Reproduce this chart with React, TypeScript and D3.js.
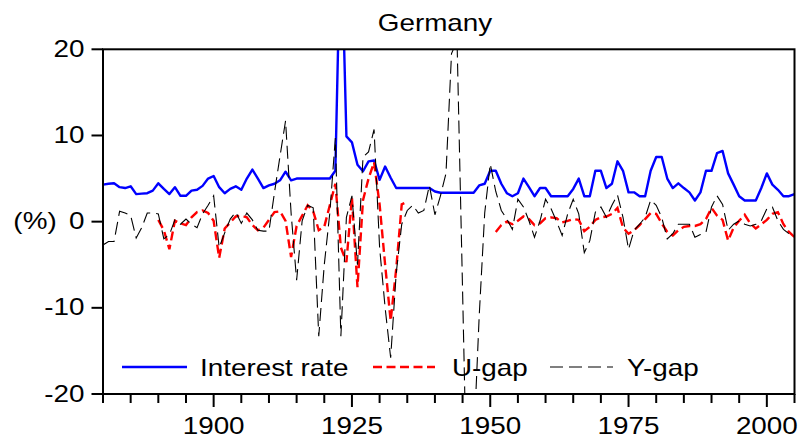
import React from "react";
import * as d3 from "d3";

// Annual series, Germany
const FIRST_YEAR = 1880;
const LAST_YEAR = 2005;

// Interest rate (%), 1880-2005
const interestRate = [
  4.3, 4.4, 4.45, 4.0, 3.9, 4.1, 3.2, 3.25, 3.3, 3.6,
  4.45, 3.8, 3.2, 4.0, 3.0, 3.0, 3.6, 3.7, 4.15, 5.0,
  5.3, 4.0, 3.3, 3.8, 4.1, 3.7, 5.0, 6.05, 5.0, 3.9,
  4.2, 4.4, 4.8, 5.8, 4.8, 5.0, 5.0, 5.0, 5.0, 5.0,
  5.0, 5.0, 5.9, 35, 9.9, 9.2, 6.6, 5.85, 7.0, 7.1,
  4.85, 6.4, 5.1, 3.9, 3.9, 3.9, 3.9, 3.9, 3.9, 3.9,
  3.5, 3.35, 3.35, 3.35, 3.35, 3.35, 3.35, 3.35, 4.2, 4.4,
  5.9, 5.9, 4.4, 3.3, 2.95, 3.3, 5.0, 4.0, 2.95, 3.9,
  3.9, 2.95, 2.95, 2.95, 2.95, 3.8, 5.0, 2.95, 2.95, 5.9,
  5.9, 3.9, 4.4, 7.0, 5.9, 3.4, 3.4, 2.95, 2.95, 5.9,
  7.5, 7.5, 5.0, 3.9, 4.45, 3.9, 3.4, 2.45, 3.4, 5.9,
  5.9, 7.95, 8.2, 5.6, 4.3, 2.95, 2.45, 2.45, 2.45, 3.9,
  5.6, 4.3, 3.7, 2.95, 2.95, 3.2,
];

// Output gap (%), 1880-2005
const yGap = [
  -2.7, -2.3, -2.3, 1.2, 1.0, 0.7, -1.9, -0.7, 1.0, 1.0,
  0.9, -2.0, -1.5, 0.2, -0.3, 0.3, -0.3, -0.7, 0.9, 1.9,
  3.0, -3.0, -1.3, 0.3, 1.1, -0.2, 1.0, 0.2, -1.0, -1.1,
  -1.1, 3.4, 7.6, 11.7, 1.0, -6.8, 0.1, 1.9, 1.6, -13.3,
  -5.0, 1.0, 9.7, -13.3, 0.5, 3.0, -5.0, 7.5, 8.1, 10.7,
  -3.0, -10.0, -15.8, -6.0, -0.3, 1.3, 1.9, 1.0, 1.3, 4.2,
  0.8, 3.0, 5.6, 19.5, 21, -8, -38, -26, -11, 1.0,
  6.7, 3.5, 1.3, 0.3, -0.9, 2.6, 1.7, 0.1, -1.8, 0.1,
  2.6, 1.5, 0.0, -1.6, 0.9, 2.6, 0.9, -3.6, -2.2, 1.1,
  1.7, 0.5, 1.9, 3.1, 0.5, -3.2, -1.0, -0.3, 0.5, 2.5,
  1.9, 0.5, -2.0, -1.4, -0.3, -0.3, -0.3, -1.8, -1.5, -1.2,
  1.7, 3.0, 2.0, -1.0, -0.3, 0.1, -0.3, -0.5, -0.3, 0.1,
  1.5, 1.7, 0.1, -0.9, -1.4, -1.6,
];

// Unemployment gap (%), two available stretches
const U_GAP_EARLY_START = 1890;
const uGapEarly = [
  0.2, -1.0, -3.2, 0.1, -0.2, -0.4, 0.5, 1.1, 1.3, 1.0,
  0.1, -4.2, -0.8, -0.1, 0.6, 0.7, 0.5, -0.4, -1.0, -0.7,
  0.2, 1.1, 1.2, 0.1, -4.1, -0.5, 0.7, 1.9, 1.2, -1.0,
  -0.6, 1.9, 4.4, -3.0, -4.7, 2.8, -7.6, 2.5, 5.0, 6.9,
  2.0, -5.0, -11.5, -5.5, 2.0, 2.3,
];
const U_GAP_LATE_START = 1951;
const uGapLate = [
  -1.2, -0.4, 0.0, -0.3, 0.1, 0.6, 0.3, -0.4, -0.2,
  0.4, 0.5, 0.4, -0.1, 0.1, 0.3, 0.2, -1.1, -0.6, 0.2,
  0.5, 0.6, 0.9, 1.6, -0.7, -1.4, -1.0, -0.4, 0.3, 1.0,
  0.9, -0.2, -1.2, -1.6, -1.0, -0.6, -0.5, -0.5, -0.3, 0.3,
  1.6, 0.7, 0.2, -2.2, -0.7, 0.1, 0.8, -0.2, -0.8, -0.3,
  0.2, 0.9, 1.1, -0.3, -1.2, -1.8,
];

const yTickValues = [-20, -10, 0, 10, 20];
const xMajorTicks = [1900, 1925, 1950, 1975, 2000];

const W = 803;
const H = 441;
const L = 103;
const R = 794.5;
const T = 49.3;
const B = 394;

const FONT = "'Liberation Sans', Arial, Helvetica, sans-serif";
const FS = 24;
const SX = 1.16;

type Pt = [number, number];

const toPoints = (start: number, vals: number[]): Pt[] =>
  vals.map((v, i) => [start + i, v] as Pt);

function Label({ x, y, anchor = "start", children, size = FS }: any) {
  return (
    <text
      transform={`translate(${x},${y}) scale(${SX},1)`}
      textAnchor={anchor}
      fontFamily={FONT}
      fontSize={size}
      fill="#000"
    >
      {children}
    </text>
  );
}

export default function App() {
  const x = d3.scaleLinear().domain([FIRST_YEAR, LAST_YEAR]).range([L, R]);
  const y = d3.scaleLinear().domain([-20, 20]).range([B, T]);
  const line = d3
    .line<Pt>()
    .x((d) => x(d[0]))
    .y((d) => y(d[1]));

  const irPts = toPoints(FIRST_YEAR, interestRate);
  const ygPts = toPoints(FIRST_YEAR, yGap);
  const ugA = toPoints(U_GAP_EARLY_START, uGapEarly);
  const ugB = toPoints(U_GAP_LATE_START, uGapLate);

  const fiveYearTicks = d3.range(FIRST_YEAR, LAST_YEAR + 1, 5);

  return (
    <svg
      width={W}
      height={H}
      style={{ position: "absolute", left: 0, top: 0, background: "#fff" }}
    >
      <defs>
        <clipPath id="plotArea">
          <rect x={L} y={T} width={R - L} height={B - T} />
        </clipPath>
      </defs>
      <rect x={0} y={0} width={W} height={H} fill="#fff" />

      <Label x={435} y={31} anchor="middle">Germany</Label>

      {/* series */}
      <g clipPath="url(#plotArea)" fill="none">
        <path d={line(irPts) || ""} stroke="#0000ff" strokeWidth={2.4} strokeLinejoin="round" />
        <path d={line(ugA) || ""} stroke="#ff0000" strokeWidth={2.4} strokeDasharray="9,4.5" />
        <path d={line(ugB) || ""} stroke="#ff0000" strokeWidth={2.4} strokeDasharray="9,4.5" />
        <path d={line(ygPts) || ""} stroke="#000" strokeWidth={1.1} strokeDasharray="13,6" />
      </g>

      {/* frame */}
      <rect x={L} y={T} width={R - L} height={B - T} fill="none" stroke="#000" strokeWidth={2} />

      {/* y axis */}
      {yTickValues.map((v) => (
        <g key={v}>
          <line x1={91.5} x2={L} y1={y(v)} y2={y(v)} stroke="#000" strokeWidth={2} />
          <Label x={84.5} y={y(v) + 7.5} anchor="end">{v}</Label>
        </g>
      ))}
      <Label x={35} y={229} anchor="middle">(%)</Label>

      {/* x axis */}
      {fiveYearTicks.map((yr) => (
        <line
          key={yr}
          x1={x(yr)}
          x2={x(yr)}
          y1={B}
          y2={xMajorTicks.includes(yr) ? 407 : 403}
          stroke="#000"
          strokeWidth={2}
        />
      ))}
      {xMajorTicks.map((yr) => (
        <Label key={yr} x={x(yr)} y={434} anchor="middle">{yr}</Label>
      ))}

      {/* legend */}
      <line x1={122} x2={187} y1={367} y2={367} stroke="#0000ff" strokeWidth={2.4} />
      <Label x={200} y={375.5}>Interest rate</Label>
      <line x1={373} x2={435} y1={367} y2={367} stroke="#ff0000" strokeWidth={2.4} strokeDasharray="9,4.5" />
      <Label x={452} y={375.5}>U-gap</Label>
      <line x1={550} x2={613} y1={367} y2={367} stroke="#000" strokeWidth={1.1} strokeDasharray="13,6" />
      <Label x={627} y={375.5}>Y-gap</Label>
    </svg>
  );
}
